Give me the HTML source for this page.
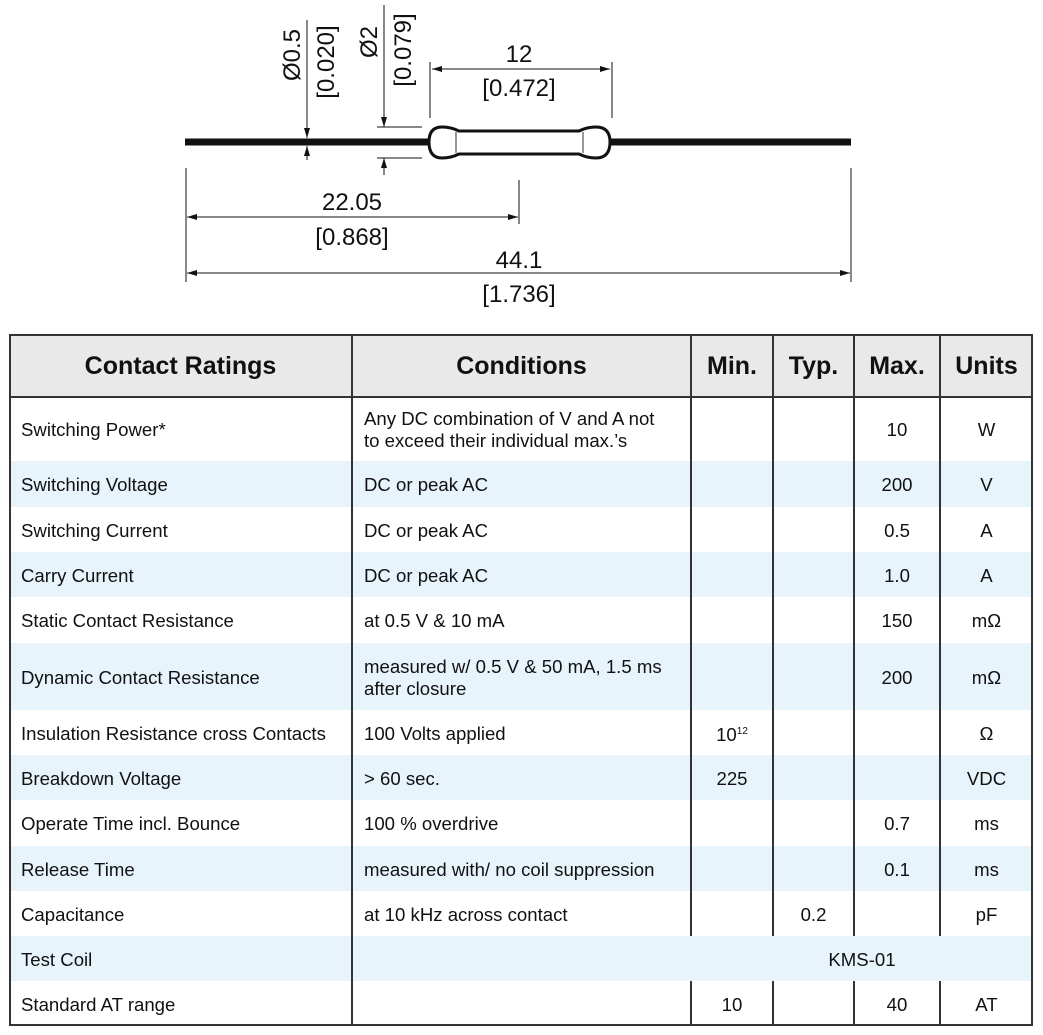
<!DOCTYPE html>
<html><head><meta charset="utf-8"><style>
body{margin:0;width:1043px;height:1035px;background:#fff;font-family:"Liberation Sans",Arial,sans-serif;position:relative;overflow:hidden}
.t{position:absolute;left:9px;top:334px;width:1024px;height:692px;border:2px solid #333;box-sizing:border-box}
.r{position:absolute;left:9px;width:1024px}
.c{position:absolute;display:flex;align-items:center;font-size:18.6px;color:#111;line-height:22px}
.v{position:absolute;top:334px;width:2px;background:#333}
</style></head><body>
<svg width="1043" height="320" style="position:absolute;left:0;top:0" font-family="Liberation Sans, Arial, sans-serif" font-size="24" fill="#111">
<defs><marker id="a" viewBox="0 0 10 6" refX="10" refY="3" markerWidth="10" markerHeight="6" orient="auto-start-reverse" markerUnits="userSpaceOnUse"><path d="M0,0L10,3L0,6z" fill="#111"/></marker></defs>
<line x1="185" y1="142" x2="432" y2="142" stroke="#111" stroke-width="7"/>
<line x1="606" y1="142" x2="851" y2="142" stroke="#111" stroke-width="7"/>
<path d="M442,127 Q429,127 429,142 Q429,158 442,158 Q451,158 459,154 L579,154 Q587,158 596,158 Q610,158 610,142 Q610,127 596,127 Q587,127 579,131 L459,131 Q451,127 442,127z" fill="#fff" stroke="#111" stroke-width="3"/>
<line x1="456" y1="132" x2="456" y2="153" stroke="#333" stroke-width="1"/>
<line x1="583" y1="132" x2="583" y2="153" stroke="#333" stroke-width="1"/>
<g stroke="#111" stroke-width="1" fill="none">
<line x1="430" y1="62" x2="430" y2="118"/><line x1="612" y1="62" x2="612" y2="118"/>
<line x1="432" y1="69" x2="610" y2="69" marker-start="url(#a)" marker-end="url(#a)"/>
<line x1="307" y1="20" x2="307" y2="138" marker-end="url(#a)"/>
<line x1="307" y1="160" x2="307" y2="146" marker-end="url(#a)"/>
<line x1="384" y1="5" x2="384" y2="127" marker-end="url(#a)"/>
<line x1="384" y1="175" x2="384" y2="158" marker-end="url(#a)"/>
<line x1="377" y1="127" x2="422" y2="127"/><line x1="377" y1="158" x2="422" y2="158"/>
<line x1="186" y1="168" x2="186" y2="282"/><line x1="519" y1="180" x2="519" y2="224"/><line x1="851" y1="168" x2="851" y2="282"/>
<line x1="187" y1="217" x2="518" y2="217" marker-start="url(#a)" marker-end="url(#a)"/>
<line x1="187" y1="273" x2="850" y2="273" marker-start="url(#a)" marker-end="url(#a)"/>
</g>
<text x="519" y="62" text-anchor="middle">12</text>
<text x="519" y="96" text-anchor="middle">[0.472]</text>
<text x="352" y="210" text-anchor="middle">22.05</text>
<text x="352" y="245" text-anchor="middle">[0.868]</text>
<text x="519" y="268" text-anchor="middle">44.1</text>
<text x="519" y="302" text-anchor="middle">[1.736]</text>
<text transform="translate(300,55) rotate(-90)" text-anchor="middle">Ø0.5</text>
<text transform="translate(334,62) rotate(-90)" text-anchor="middle">[0.020]</text>
<text transform="translate(377,42) rotate(-90)" text-anchor="middle">Ø2</text>
<text transform="translate(411,50) rotate(-90)" text-anchor="middle">[0.079]</text>
</svg>

<div class="r" style="top:334px;height:63px;background:#e9e9e9"></div>
<div class="r" style="top:461px;height:46px;background:#e8f4fb"></div>
<div class="r" style="top:552px;height:45px;background:#e8f4fb"></div>
<div class="r" style="top:643px;height:67px;background:#e8f4fb"></div>
<div class="r" style="top:755px;height:45px;background:#e8f4fb"></div>
<div class="r" style="top:846px;height:45px;background:#e8f4fb"></div>
<div class="r" style="top:936px;height:45px;background:#e8f4fb"></div>
<div class="r" style="top:396px;height:2px;background:#333"></div>

<div class="v" style="left:351px;height:692px"></div>
<div class="v" style="left:690px;height:602px"></div>
<div class="v" style="left:690px;top:981px;height:45px"></div>
<div class="v" style="left:772px;height:602px"></div>
<div class="v" style="left:772px;top:981px;height:45px"></div>
<div class="v" style="left:853px;height:602px"></div>
<div class="v" style="left:853px;top:981px;height:45px"></div>
<div class="v" style="left:939px;height:602px"></div>
<div class="v" style="left:939px;top:981px;height:45px"></div>
<div class="t"></div>

<div id="cells"></div>
<script>
var rows=[[397,461,"Switching Power*","Any DC combination of V and A not<br>to exceed their individual max.’s","","","10","W"],
[461,507,"Switching Voltage","DC or peak AC","","","200","V"],
[507,552,"Switching Current","DC or peak AC","","","0.5","A"],
[552,597,"Carry Current","DC or peak AC","","","1.0","A"],
[597,643,"Static Contact Resistance","at 0.5 V &amp; 10 mA","","","150","mΩ"],
[643,710,"Dynamic Contact Resistance","measured w/ 0.5 V &amp; 50 mA, 1.5 ms<br>after closure","","","200","mΩ"],
[710,755,"Insulation Resistance cross Contacts","100 Volts applied","10<sup style='font-size:10px'>12</sup>","","","Ω"],
[755,800,"Breakdown Voltage","&gt; 60 sec.","225","","","VDC"],
[800,846,"Operate Time incl. Bounce","100 % overdrive","","","0.7","ms"],
[846,891,"Release Time","measured with/ no coil suppression","","","0.1","ms"],
[891,936,"Capacitance","at 10 kHz across contact","","0.2","","pF"],
[936,981,"Test Coil","","","","",""],
[981,1026,"Standard AT range","","10","","40","AT"]];
var cols=[[9,352],[352,691],[691,773],[773,854],[854,940],[940,1033]];
var h="";
var hd=["Contact Ratings","Conditions","Min.","Typ.","Max.","Units"];
for(var i=0;i<6;i++)h+="<div class='c' style='left:"+cols[i][0]+"px;width:"+(cols[i][1]-cols[i][0])+"px;top:334px;height:63px;justify-content:center;font-weight:bold;font-size:25px'>"+hd[i]+"</div>";
rows.forEach(function(r){for(var i=0;i<6;i++){var t=r[i+2];if(!t)continue;var L=i<2;
h+="<div class='c' style='left:"+(cols[i][0]+(L?12:0))+"px;width:"+(cols[i][1]-cols[i][0]-(L?12:0))+"px;top:"+(r[0]+1)+"px;height:"+(r[1]-r[0])+"px;justify-content:"+(L?"flex-start":"center")+"'><span>"+t+"</span></div>";}});
h+="<div class='c' style='left:691px;width:342px;top:937px;height:45px;justify-content:center'>KMS-01</div>";
document.getElementById("cells").innerHTML=h;
</script>
</body></html>
